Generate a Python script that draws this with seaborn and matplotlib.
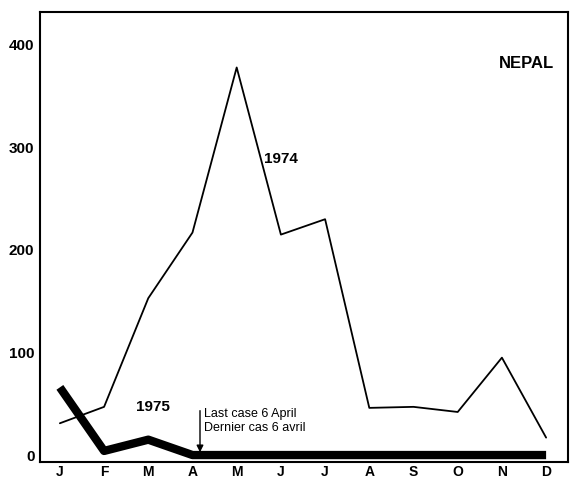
import numpy as np
import pandas as pd
import matplotlib
matplotlib.use('Agg')
import matplotlib.pyplot as plt
import seaborn as sns

# monthly cases
months = ['J', 'F', 'M', 'A', 'M', 'J', 'J', 'A', 'S', 'O', 'N', 'D']
cases_1974 = [31, 47, 153, 217, 378, 215, 230, 46, 47, 42, 95, 17]
cases_1975 = [66, 4, 15, 0, 0, 0, 0, 0, 0, 0, 0, 0]

sns.set_style('white')
plt.rcParams['font.family'] = ['Liberation Sans', 'DejaVu Sans']
plt.rcParams['text.color'] = 'black'
plt.rcParams['xtick.color'] = 'black'
plt.rcParams['ytick.color'] = 'black'

df = pd.DataFrame({
    'month': list(range(12)) * 2,
    'cases': cases_1974 + cases_1975,
    'year': ['1974'] * 12 + ['1975'] * 12,
})

fig = plt.figure(figsize=(5.77, 4.84), dpi=100)
ax = fig.add_axes([0.0693, 0.045, 0.9147, 0.93])

sns.lineplot(data=df[df['year'] == '1974'], x='month', y='cases', color='black',
             linewidth=1.3, ax=ax, legend=False)
sns.lineplot(data=df[df['year'] == '1975'], x='month', y='cases', color='black',
             linewidth=6, ax=ax, legend=False, solid_capstyle='butt')

ax.set_xlim(-0.45, 11.49)
ax.set_ylim(-7, 432)
ax.set_xticks(range(12))
ax.set_xticklabels(months, fontsize=10, fontweight='bold')
ax.set_yticks([0, 100, 200, 300, 400])
ax.set_yticklabels(['0', '100', '200', '300', '400'], fontsize=11, fontweight='bold')
ax.set_yticks(np.arange(0, 440, 20), minor=True)
ax.tick_params(axis='y', which='major', direction='in', length=8, width=1.5, pad=4)
ax.tick_params(axis='y', which='minor', direction='in', length=4, width=1.2)
ax.tick_params(axis='x', which='major', direction='in', length=4, width=1, pad=2)
ax.set_xlabel('')
ax.set_ylabel('')
for s in ax.spines.values():
    s.set_color('black')
    s.set_linewidth(1.5)

ax.text(5.0, 289, '1974', fontsize=11, fontweight='bold', ha='center', va='center')
ax.text(2.1, 47, '1975', fontsize=11, fontweight='bold', ha='center', va='center')
ax.text(0.975, 0.885, 'NEPAL', transform=ax.transAxes, fontsize=12, fontweight='bold',
        ha='right', va='center')
ax.annotate('', xy=(3.17, 0), xytext=(3.17, 46),
            arrowprops=dict(arrowstyle='-|>', color='black', lw=1, mutation_scale=10))
ax.text(3.27, 40, 'Last case 6 April', fontsize=9, ha='left', va='center')
ax.text(3.27, 26, 'Dernier cas 6 avril', fontsize=9, ha='left', va='center')

fig.savefig('out.png', dpi=100)
